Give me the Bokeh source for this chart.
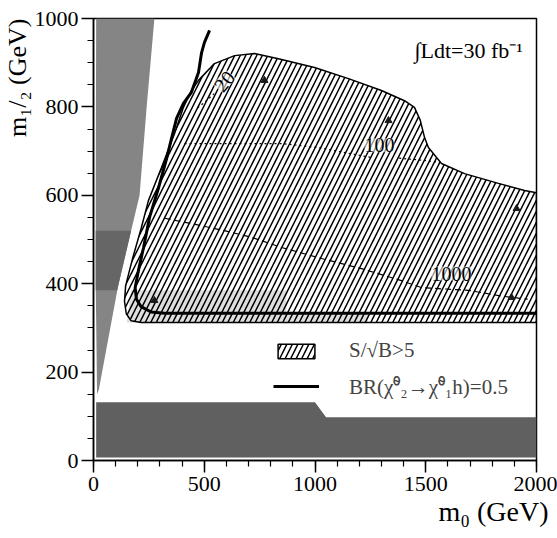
import math
from bokeh.plotting import figure
from bokeh.models import (Range1d, SingleIntervalTicker, Label, Legend, LegendItem, Title)
from bokeh.embed import file_html
from bokeh.resources import INLINE

# ---------------- data ----------------
# theoretically excluded wedge at small m0
wedge_x = [16, 24, 113, 208, 240, 275, 12, 10, 10]
wedge_y = [150, 160, 400, 600, 800, 1000, 1000, 600, 400]
wedge_dark_x = [10, 107, 170, 10]
wedge_dark_y = [385, 385, 520, 520]

# experimentally excluded band at small m1/2
band_x = [12, 1000, 1050, 2000, 2000, 12]
band_y = [132, 132, 98, 98, 7, 7]

# S/sqrt(B) > 5 region (outer contour)
sig_x = [2000, 215, 170, 148, 140, 145, 160, 178, 215, 248, 307, 366, 406, 440,
         474, 546, 637, 727, 835, 998, 1151, 1300, 1404, 1449, 1475, 1495, 1512,
         1571, 1675, 1828, 1946, 2000]
sig_y = [312, 312, 316, 332, 360, 395, 425, 460, 525, 588, 663, 740, 799, 835,
         860, 898, 916, 921, 909, 889, 864, 837, 814, 799, 770, 730, 708,
         672, 649, 627, 611, 606]

# lighter stippled strip near the lower edge
stip_x = [150, 1240, 1240, 870, 870, 170]
stip_y = [312, 312, 333, 333, 385, 385]

# BR(chi2 -> chi1 h) = 0.5 contour
br_x = [524, 501, 488, 474, 442, 406, 375, 352, 330, 293, 253, 226, 203, 188,
        194, 215, 260, 320, 2000]
br_y = [973, 946, 923, 878, 833, 808, 774, 728, 683, 616, 550, 482, 430, 391,
        365, 348, 336, 333, 333]

# significance contours (20, 100, 1000)
c20_x = [470, 505, 545]
c20_y = [798, 812, 830]
c100_xs = [[411, 849, 1016, 1151, 1250], [1380, 1470, 1560]]
c100_ys = [[717, 717, 708, 695, 686], [684, 680, 675]]
c1000_x = [321, 442, 591, 713, 849, 1029, 1210, 1390, 1481, 1693, 1840, 1960]
c1000_y = [548, 536, 520, 505, 482, 457, 434, 407, 391, 385, 372, 365]

# small dark contour blobs
blob_x = [772, 1332, 1910, 1887, 275]
blob_y = [860, 769, 570, 369, 362]

# contour labels
clab_text = ["20", "100", "1000"]
clab_x = [591, 1291, 1616]
clab_y = [858, 713, 423]
clab_angle = [50, 0, 0]

lumi_text = "∫Ldt=30 fb⁻¹"
leg_sig = "S/√B>5"
leg_br = "BR(χ̃⁰₂→χ̃⁰₁h)=0.5"
xlabel = "m₀ (GeV)"
ylabel = "m₁/₂ (GeV)"

FONT = "Liberation Serif, Times New Roman, Times, serif"

# ---------------- figure ----------------
p = figure(width=557, height=538, x_range=Range1d(0, 2000), y_range=Range1d(0, 1000),
           output_backend="svg", toolbar_location=None,
           min_border_left=92, min_border_right=21, min_border_top=18, min_border_bottom=78)
p.grid.visible = False
p.background_fill_color = "white"
p.border_fill_color = "white"
p.outline_line_color = "black"
p.outline_line_width = 1.5

p.xaxis.ticker = SingleIntervalTicker(interval=500, num_minor_ticks=5)
p.yaxis.ticker = SingleIntervalTicker(interval=200, num_minor_ticks=4)
for ax in (p.xaxis[0], p.yaxis[0]):
    ax.axis_line_color = "black"
    ax.axis_line_width = 1.5
    ax.major_tick_line_color = "black"
    ax.minor_tick_line_color = "black"
    ax.major_tick_line_width = 1.5
    ax.minor_tick_line_width = 1.2
    ax.major_tick_in = 0
    ax.minor_tick_in = 0
    ax.major_tick_out = 12
    ax.minor_tick_out = 6
    ax.major_label_text_font = FONT
    ax.major_label_text_font_size = "22px"
    ax.major_label_text_color = "black"
p.yaxis.major_label_standoff = 3
p.xaxis.major_label_standoff = 4

# shaded excluded regions
p.patch(wedge_x, wedge_y, fill_color="#858585", line_color=None)
p.patch(wedge_dark_x, wedge_dark_y, fill_color="#666666", line_color=None)
p.patch(band_x, band_y, fill_color="#606060", line_color=None)

# stipple strip
p.patch(stip_x, stip_y, fill_color="#d6d6d6", fill_alpha=0.8, line_color=None)

# hatched discovery region
sig = p.patch(sig_x, sig_y, fill_alpha=0, hatch_pattern="/", hatch_scale=11,
              hatch_weight=1.5, hatch_color="black", line_color="black", line_width=1.5)

# contours
p.line(c20_x, c20_y, line_color="black", line_width=1.2, line_dash="2 3")
p.multi_line(c100_xs, c100_ys, line_color="black", line_width=1.2, line_dash="2 3")
p.line(c1000_x, c1000_y, line_color="black", line_width=1.2, line_dash="6 4")
p.scatter(blob_x, blob_y, marker="triangle", size=7, color="#1a1a1a")

# BR line
br = p.line(br_x, br_y, line_color="black", line_width=3)

# contour labels
for t, x, y, a in zip(clab_text, clab_x, clab_y, clab_angle):
    p.add_layout(Label(x=x, y=y, text=t, angle=math.radians(a), text_align="center",
                       text_baseline="middle", text_font=FONT, text_font_size="20px",
                       text_color="black", background_fill_color="white",
                       background_fill_alpha=0.6))

p.add_layout(Label(x=1449, y=928, text=lumi_text, text_align="left",
                   text_baseline="alphabetic", text_font=FONT, text_font_size="22px",
                   text_color="black"))

# axis titles
p.add_layout(Title(text=xlabel, align="right", offset=-12, standoff=0,
                   text_font=FONT, text_font_size="28px", text_font_style="normal",
                   text_color="black"), "below")
p.add_layout(Title(text=ylabel, align="right", offset=0, standoff=0,
                   text_font=FONT, text_font_size="26px", text_font_style="normal",
                   text_color="black"), "left")

# legend
legend = Legend(items=[LegendItem(label=leg_sig, renderers=[sig]),
                       LegendItem(label=leg_br, renderers=[br])],
                location=(180, 60), margin=0, padding=0, spacing=9,
                glyph_width=46, glyph_height=18, label_height=18, label_standoff=30,
                label_text_font=FONT, label_text_font_size="21px",
                border_line_alpha=0, background_fill_alpha=0)
p.add_layout(legend)

open("out.html", "w").write(file_html(p, INLINE))
